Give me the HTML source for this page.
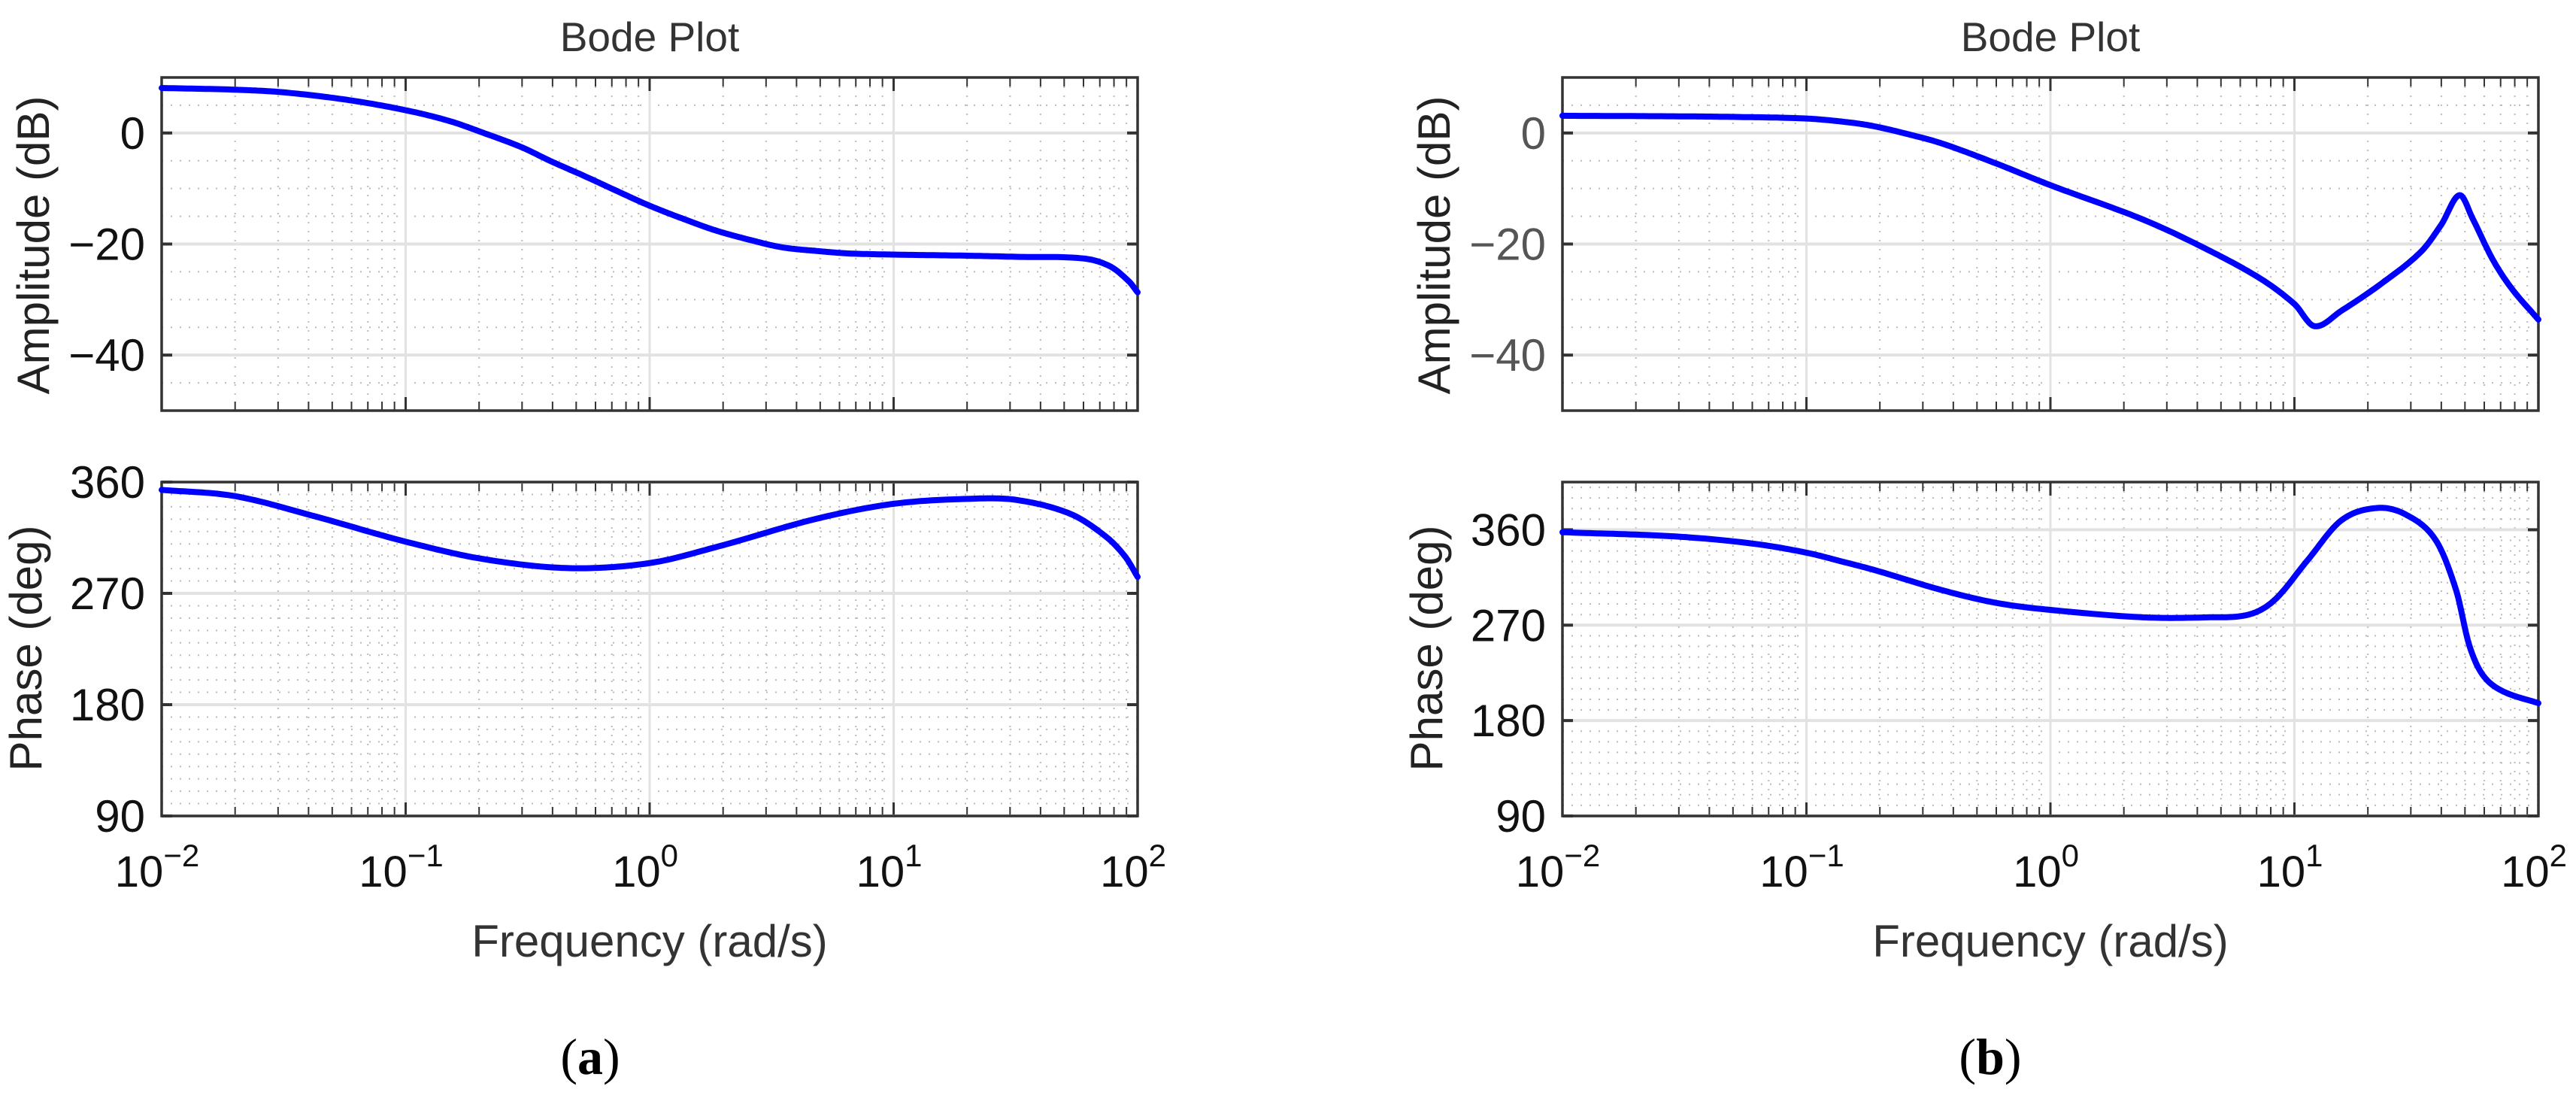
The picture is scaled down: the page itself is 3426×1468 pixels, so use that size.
<!DOCTYPE html>
<html><head><meta charset="utf-8"><style>
html,body{margin:0;padding:0;background:#fff;}
svg{display:block;font-family:"Liberation Sans",Arial,sans-serif;}
</style></head><body>
<svg id="fig" width="3426" height="1468" viewBox="0 0 3426 1468" xmlns="http://www.w3.org/2000/svg"></svg>
<script>
// ---- data (frequency rad/s, values) ----
const freqA_amp = [0.01,0.02,0.032,0.059,0.1,0.15,0.209,0.3,0.39,0.55,0.73,1,1.4,1.88,2.6,3.5,5,6.6,10,20,32,60,77,92,100];
const magA = [8.1,7.8,7.3,5.9,4.1,2.2,0,-2.6,-5,-7.9,-10.4,-13.1,-15.6,-17.6,-19.3,-20.6,-21.3,-21.7,-21.9,-22.1,-22.3,-22.6,-24,-26.7,-28.7];
const freqA_ph = [0.01,0.02,0.043,0.1,0.21,0.47,1,1.9,4.8,10,20.7,32,53,74,89,100];
const phaseA = [353.7,348.6,332,311.8,297.6,290.4,294.5,307.8,330.2,342.4,346.5,345.5,334.3,316,299.6,283.3];
const freqB_amp = [0.01,0.03,0.05,0.1,0.15,0.19,0.26,0.36,0.6,1,2.4,4.4,7.3,10,12.1,15.6,22.6,33,40,47.5,54,65,78,100];
const magB = [3.1,3.0,2.9,2.6,1.9,1.2,-0.2,-1.9,-5.5,-9.4,-15.6,-21,-26.3,-30.8,-34.8,-32,-27.2,-21.4,-16.5,-11.2,-15.6,-22.8,-28.1,-33.6];
const freqB_ph = [0.01,0.029,0.06,0.1,0.14,0.19,0.36,0.6,1,2.4,4.4,6.5,8.3,11.3,15.6,22,29,38,46,52,59,71,100];
const phaseB = [357.7,353.7,347,338.4,330,322,303,291,284.4,277.4,277.4,280,293.8,331,369,380.6,373.6,350,303,251.6,223.4,208,196.4];
const xTickExp = [-2,-1,0,1,2];
const ampTicks = [0,-20,-40];
const phaseTicks = [90,180,270,360];

const NS='http://www.w3.org/2000/svg';
const svg=document.getElementById('fig');
function el(tag,attrs,parent){const e=document.createElementNS(NS,tag);for(const k in attrs)e.setAttribute(k,attrs[k]);(parent||svg).appendChild(e);return e;}

function makeAxes(cfg){
  const g=el('g',{});
  
  
  const {x0,x1,y0,y1,ymin,ymax}=cfg;
  const xs=f=>x0+(Math.log10(f)+2)/4*(x1-x0);
  const ys=v=>y1-(v-ymin)/(ymax-ymin)*(y1-y0);
  for(let v=ymin;v<=ymax+1e-9;v+=cfg.minorStep){
    if(cfg.ticks.includes(v))continue;
    const ln=el('line',{x1:x0,x2:x1,y1:ys(v),y2:ys(v),stroke:'#bbb','stroke-width':2,'stroke-dasharray':'2 10'},g);
    
    
  }
  for(let e=-2;e<2;e++)for(let m=2;m<=9;m++){
    const X=xs(m*Math.pow(10,e));
    const ln=el('line',{x1:X,x2:X,y1:y0,y2:y1,stroke:'#bbb','stroke-width':2,'stroke-dasharray':'2 10'},g);
    
    
    el('line',{x1:X,x2:X,y1:y1,y2:y1-12,stroke:'#333','stroke-width':2},g);
    el('line',{x1:X,x2:X,y1:y0,y2:y0+12,stroke:'#333','stroke-width':2},g);
  }
  xTickExp.forEach(e=>{const X=xs(Math.pow(10,e));
    const ln=el('line',{x1:X,x2:X,y1:y0,y2:y1,stroke:'#e2e2e2','stroke-width':3},g);
    
    
    el('line',{x1:X,x2:X,y1:y1,y2:y1-18,stroke:'#333','stroke-width':3},g);
    el('line',{x1:X,x2:X,y1:y0,y2:y0+18,stroke:'#333','stroke-width':3},g);
  });
  cfg.ticks.forEach(v=>{const Y=ys(v);
    const ln=el('line',{x1:x0,x2:x1,y1:Y,y2:Y,stroke:'#e2e2e2','stroke-width':4},g);
    
    
    el('line',{x1:x0,x2:x0+14,y1:Y,y2:Y,stroke:'#333','stroke-width':4},g);
    el('line',{x1:x1,x2:x1-14,y1:Y,y2:Y,stroke:'#333','stroke-width':4},g);
    const t=el('text',{x:x0-22,y:Y+21,'text-anchor':'end','font-size':60,fill:cfg.tickColor},g);
    t.textContent=(v<0?'\u2212'+(-v):String(v));
    
    
  });
  const fr=el('rect',{x:x0,y:y0,width:x1-x0,height:y1-y0,fill:'none',stroke:'#333','stroke-width':3.5},g);
  
  
  // curve: Catmull-Rom in log-x space, sampled densely
  const lx=cfg.fx.map(f=>Math.log10(f)), vy=cfg.fy;
  const n=lx.length; let d='';
  for(let i=0;i<n-1;i++){
    const i0=Math.max(i-1,0), i3=Math.min(i+2,n-1);
    const h=lx[i+1]-lx[i];
    const m1=(vy[i+1]-vy[i0])/(lx[i+1]-lx[i0]);
    const m2=(vy[i3]-vy[i])/(lx[i3]-lx[i]);
    for(let s=0;s<=20;s++){
      const t=s/20, t2=t*t, t3=t2*t;
      const v=(2*t3-3*t2+1)*vy[i]+(t3-2*t2+t)*h*m1+(-2*t3+3*t2)*vy[i+1]+(t3-t2)*h*m2;
      const L=lx[i]+t*h;
      const X=x0+(L+2)/4*(x1-x0), Y=ys(v);
      d+=(d?' L':'M')+X.toFixed(1)+','+Y.toFixed(1);
    }
  }
  const path=el('path',{d:d,fill:'none',stroke:'#0000ff','stroke-width':8,'stroke-linejoin':'round','stroke-linecap':'round'},g);
  
  
  const yl=el('text',{transform:`translate(${cfg.ylx},${cfg.yly}) rotate(-90)`,'text-anchor':'middle','font-size':60,fill:'#222'},g);
  yl.textContent=cfg.ylabel;
  
  
  if(cfg.xlabels){
    xTickExp.forEach(e=>{const X=xs(Math.pow(10,e));
      const t=el('text',{x:X-6,y:y1+94,'text-anchor':'middle','font-size':58,fill:'#111'},g);
      t.textContent='10';
      
      
      const s=el('tspan',{dy:-27,'font-size':42},t);
      s.textContent=(e<0?'\u2212'+(-e):String(e));
    });
  }
  return {xs,ys};
}

function panel(ox,name,ampFreq,amp,phFreq,ph,phMax,ampTickColor,title){
  const w=1298;
  makeAxes({name:name+'-amplitude-axes',x0:ox,x1:ox+w,y0:103,y1:546,ymin:-50,ymax:10,ticks:ampTicks,minorStep:5,
    fx:ampFreq,fy:amp,curveName:name+'-amplitude-curve',ylabel:'Amplitude (dB)',ylx:ox-150,yly:326,tickColor:ampTickColor});
  makeAxes({name:name+'-phase-axes',x0:ox,x1:ox+w,y0:641,y1:1085,ymin:90,ymax:phMax,ticks:phaseTicks,minorStep:10,
    fx:phFreq,fy:ph,curveName:name+'-phase-curve',ylabel:'Phase (deg)',ylx:ox-160,yly:862,tickColor:'#111',xlabels:true});
  const t=el('text',{x:ox+w/2,y:68,'text-anchor':'middle','font-size':55,fill:'#333'});
  t.textContent=title;
  
  
  const xl=el('text',{x:ox+w/2,y:1272,'text-anchor':'middle','font-size':60,fill:'#333'});
  xl.textContent='Frequency (rad/s)';
  
  
}
panel(215,'panel-a',freqA_amp,magA,freqA_ph,phaseA,360,'#111','Bode Plot');
panel(2078,'panel-b',freqB_amp,magB,freqB_ph,phaseB,405,'#555','Bode Plot');

const ca=el('text',{x:785,y:1428,'text-anchor':'middle','font-size':68,'font-family':'Liberation Serif, serif',fill:'#000'});
ca.innerHTML='(<tspan font-weight="bold">a</tspan>)';


const cb=el('text',{x:2647,y:1428,'text-anchor':'middle','font-size':68,'font-family':'Liberation Serif, serif',fill:'#000'});
cb.innerHTML='(<tspan font-weight="bold">b</tspan>)';


</script>
</body></html>
